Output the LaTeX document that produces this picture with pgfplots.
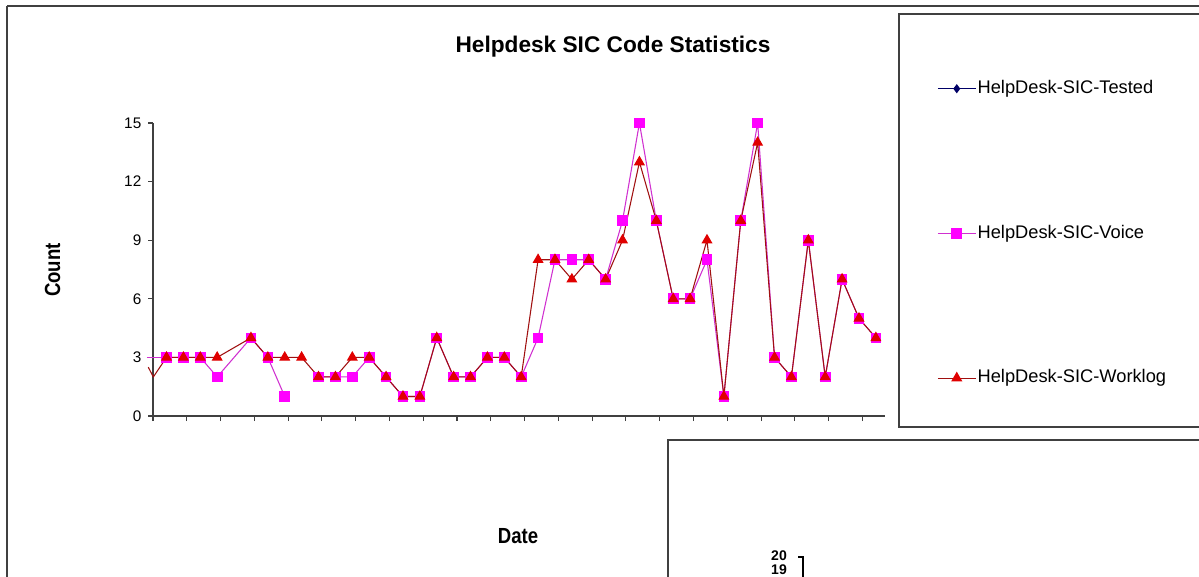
\documentclass[border=0pt]{standalone}
\usepackage{fontspec}
\setmainfont{Liberation Sans}
\usepackage{graphicx}
\usepackage{pgfplots}
\usepackage{pgfplotstable}
\pgfplotsset{compat=1.18}
\definecolor{axisgray}{HTML}{404040}
\definecolor{voiceline}{HTML}{D030D0}
\definecolor{voicemark}{HTML}{FF00FF}
\definecolor{workline}{HTML}{A01010}
\definecolor{workmark}{HTML}{E00000}
\definecolor{testednavy}{HTML}{000066}

\pgfplotstableread{
x voice worklog
0.8 3 3
1.8 3 3
2.8 3 3
3.8 2 3
5.8 4 4
6.8 3 3
7.8 1 3
8.8 nan 3
9.8 2 2
10.8 2 2
11.8 2 3
12.8 3 3
13.8 2 2
14.8 1 1
15.8 1 1
16.8 4 4
17.8 2 2
18.8 2 2
19.8 3 3
20.8 3 3
21.8 2 2
22.8 4 8
23.8 8 8
24.8 8 7
25.8 8 8
26.8 7 7
27.8 10 9
28.8 15 13
29.8 10 10
30.8 6 6
31.8 6 6
32.8 8 9
33.8 1 1
34.8 10 10
35.8 15 14
36.8 3 3
37.8 2 2
38.8 9 9
39.8 2 2
40.8 7 7
41.8 5 5
42.8 4 4
}\sicdata

\begin{document}
\begin{tikzpicture}
\useasboundingbox (0pt,0pt) rectangle (899.25pt,-432pt);
\begin{scope}[x=0.75pt,y=-0.75pt]
  % outer chart frame
  \draw[axisgray, line width=1.1pt] (7,6) -- (1215,6);
  \draw[axisgray, line width=1.1pt] (7,6) -- (7,600);
  % legend box
  \draw[axisgray, line width=1.1pt, fill=white] (899,14) rectangle (1215,427);
  % second chart box (bottom right)
  \draw[axisgray, line width=1.1pt, fill=white] (668,440) rectangle (1215,600);
  \node[font=\bfseries\fontsize{10.5}{11}\selectfont, inner sep=0pt] at (779,556) {20};
  \node[font=\bfseries\fontsize{10.5}{11}\selectfont, inner sep=0pt] at (779,570) {19};
  \draw[black, line width=0.8pt] (798,557) -- (803,557) -- (803,600);
  % titles
  \node[font=\bfseries\fontsize{17}{20}\selectfont, inner sep=0pt] at (613,47) {Helpdesk SIC Code Statistics};
  \node[font=\bfseries\fontsize{16.4}{18}\selectfont, inner sep=0pt, anchor=base] at (518,543) {\scalebox{0.85}[1]{Date}};
  \node[font=\bfseries\fontsize{16.4}{18}\selectfont, inner sep=0pt, anchor=base, rotate=90] at (60,270) {\scalebox{0.85}[1]{Count}};
\end{scope}
\begin{axis}[
  at={(114.75pt,-312pt)}, anchor=south west,
  scale only axis, width=549pt, height=219.75pt,
  xmin=0, xmax=43.34, ymin=0, ymax=15,
  axis lines*=left,
  axis line style={axisgray, line width=0.9pt},
  xtick={0,2,...,42}, xticklabels={},
  ytick={0,3,...,15},
  tick align=outside, major tick length=3.75pt,
  tick style={axisgray, line width=0.8pt},
  yticklabel style={font=\fontsize{11.5}{13}\selectfont, text=black, xshift=-1.5pt},
  /pgf/number format/assume math mode=true,
  clip=false,
  unbounded coords=jump,
  legend cell align=left,
  legend image code/.code={\draw[mark repeat=2,mark phase=2] plot coordinates {(0pt,0pt) (14.25pt,0pt) (28.5pt,0pt)};},
  legend style={at={(axis description cs:1.071,1.152)}, anchor=north west, draw=none, fill=none,
    font=\fontsize{13.7}{16}\selectfont, row sep=93.5pt, inner sep=0pt,
    nodes={inner sep=1pt, text height=10pt, text depth=3pt}},
]
\addlegendimage{testednavy, line width=0.8pt, mark=diamond*, mark size=2.8pt, mark options={fill=testednavy}}
\addlegendentry{HelpDesk-SIC-Tested}
\addplot[voiceline, line width=0.8pt, mark=square*, mark size=3.6pt, mark options={fill=voicemark, draw=voicemark}]
  table[x=x, y=voice] {\sicdata};
\addlegendentry{HelpDesk-SIC-Voice}
\addplot[workline, line width=0.8pt, mark=triangle*, mark size=4pt, mark options={fill=workmark, draw=workmark}]
  table[x=x, y=worklog] {\sicdata};
\addlegendentry{HelpDesk-SIC-Worklog}
% lines entering from the left of the axis
\addplot[voiceline, line width=0.8pt, forget plot] coordinates {(-0.37,3) (0.8,3)};
\addplot[workline, line width=0.8pt, forget plot] coordinates {(-0.28,2.5) (0.02,2.0) (0.8,3)};
\end{axis}
\end{tikzpicture}
\end{document}
